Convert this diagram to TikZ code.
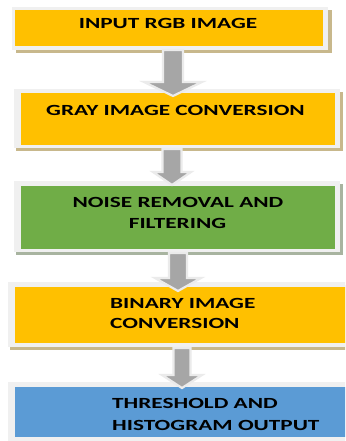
\documentclass[tikz,border=0pt]{standalone}
\usepackage{fontspec}
\newfontfamily\boxfont[FakeStretch=1.5]{Carlito}
\usetikzlibrary{calc}
\definecolor{boxorange}{HTML}{FFC000}
\definecolor{boxgreen}{HTML}{70AD47}
\definecolor{boxblue}{HTML}{5B9BD5}
\definecolor{frameg}{HTML}{F0F0F0}
\definecolor{shadtan}{HTML}{C8B88C}
\definecolor{shadgreen}{HTML}{A8B4A0}
\definecolor{arrfill}{HTML}{A6A6A6}
\definecolor{arrline}{HTML}{EBEBEB}
\tikzset{
  lbl/.style={inner sep=0pt, font=\boxfont\bfseries\fontsize{15.5}{18}\selectfont, text=black},
  blockarr/.style={fill=arrfill, draw=arrline, line width=2.2pt, line join=miter},
}
% name, cx, ytop, yneck, ytip, shaft half width, head half width
\newcommand{\blockarrow}[7]{%
  \coordinate (#1s) at (#2,#3);
  \coordinate (#1e) at (#2,#5);
  \draw[blockarr] ($(#1s)+(-#6,0)$) -- ($(#1s)+(#6,0)$) -- ($(#1s)+(#6,#4-#3)$)
     -- ($(#1s)+(#7,#4-#3)$) -- (#1e) -- ($(#1s)+(-#7,#4-#3)$)
     -- ($(#1s)+(-#6,#4-#3)$) -- cycle;}
\begin{document}
\begin{tikzpicture}[x=1pt,y=-1pt]
\useasboundingbox (0,0) rectangle (345,441);
\clip (0,0) rectangle (345,441);
\fill[white] (0,0) rectangle (345,441);
% box 1
\fill[shadtan] (16,10) rectangle (332,53);
\fill[frameg] (12,7) rectangle (328,50);
\node[fill=boxorange, inner sep=0pt, minimum width=308pt, minimum height=36pt] (b1) at (169,28) {};
% box 2
\fill[shadtan] (16,92) rectangle (343,151);
\fill[frameg] (14,89) rectangle (340,148);
\node[fill=boxorange, inner sep=0pt, minimum width=314pt, minimum height=52pt] (b2) at (178,119) {};
% box 3
\fill[shadgreen] (16,184) rectangle (343,255);
\fill[frameg] (14,181) rectangle (340,252);
\node[fill=boxgreen, inner sep=0pt, minimum width=314pt, minimum height=63pt] (b3) at (178,217.5) {};
% box 4
\fill[shadtan] (10,285) rectangle (350,350);
\fill[frameg] (8,282) rectangle (350,347);
\node[fill=boxorange, inner sep=0pt, minimum width=335pt, minimum height=56pt] (b4) at (182.5,315) {};
% box 5
\fill[frameg] (8,382) rectangle (350,445);
\node[fill=boxblue, inner sep=0pt, minimum width=335pt, minimum height=50pt] (b5) at (182.5,412) {};
% texts
\node[lbl, anchor=base] (t1) at (168,29) {INPUT RGB IMAGE};
\node[lbl, anchor=base] (t2) at (175.5,115) {GRAY IMAGE CONVERSION};
\node[lbl, anchor=base] (t3a) at (178,207) {NOISE REMOVAL AND};
\node[lbl, anchor=base] (t3b) at (177.5,228) {FILTERING};
\node[lbl, anchor=base west] (t4a) at (110,308) {BINARY IMAGE};
\node[lbl, anchor=base west] (t4b) at (110,328) {CONVERSION};
\node[lbl, anchor=base west] (t5a) at (112,408) {THRESHOLD AND};
\node[lbl, anchor=base west] (t5b) at (112,430) {HISTOGRAM OUTPUT};
% arrows
\blockarrow{a1}{173}{50}{82}{96}{10}{29}
\blockarrow{a2}{172}{149}{172}{185}{9.5}{19}
\blockarrow{a3}{178}{253}{278}{291}{9}{23}
\blockarrow{a4}{182}{348}{375}{388}{8.5}{20}
\end{tikzpicture}
\end{document}
